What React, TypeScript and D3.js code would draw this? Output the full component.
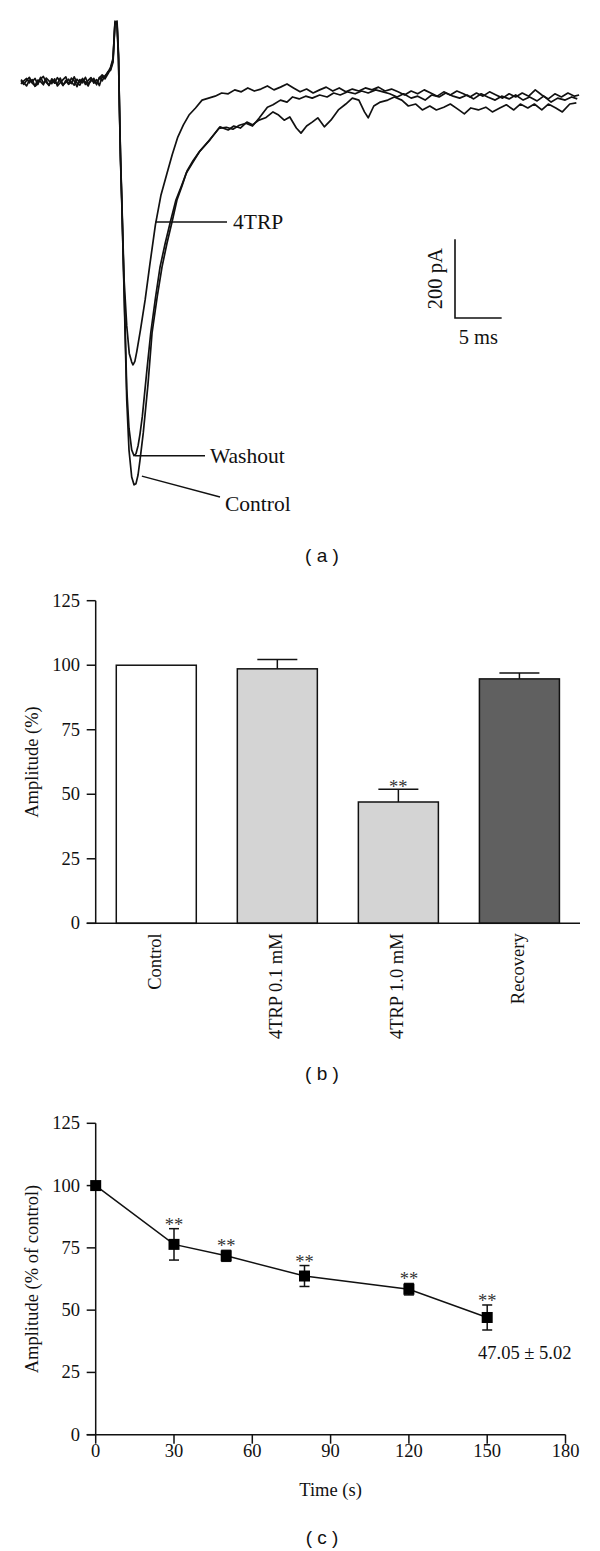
import React from "react";
import * as d3 from "d3";

// ---------- Panel (a): current traces (time in ms, current in pA) ----------
const baselineTimes = [0, 0.3, 0.6, 0.9, 1.2, 1.5, 1.8, 2.1, 2.4, 2.7, 3.0, 3.3, 3.6, 3.9, 4.2, 4.5, 4.8, 5.1, 5.4, 5.7, 6.0, 6.3, 6.6, 6.9, 7.2, 7.5, 7.8, 8.1, 8.4, 8.7, 9.0, 9.3, 9.6];
const controlBaseline = [2, -6, 4, 12, -3, -9, 5, 1, -7, 10, 3, -4, 8, -10, -2, 6, 13, -5, 0, -8, 7, -1, 9, -6, 4, 11, -3, 6, -9, 14, 8, 20, 33];
const washoutBaseline = [-5, 3, 9, -2, 6, -11, -4, 8, 14, -1, -8, 5, -3, 11, 2, -9, 4, -6, 10, 3, -12, 6, -2, 12, -5, 2, 9, -7, 12, 3, 16, 24, 38];
const trpBaseline = [6, -2, -10, 5, 1, 9, -6, 12, -3, 4, -9, 8, 0, -5, 10, -7, -1, 7, -4, 13, -2, -8, 5, 0, -10, 7, 2, -4, 10, 18, 12, 26, 30];

const controlTrace: [number, number][] = [
  [9.86, 56], [10.07, 155], [10.29, 145], [10.45, 56], [10.55, -71], [10.66, -198], [10.79, -300],
  [11.04, -529], [11.33, -808], [11.57, -935], [11.86, -1004], [12.11, -1024], [12.32, -1021],
  [12.54, -999], [12.75, -961], [13.1, -892], [13.6, -770], [14.04, -638], [14.6, -545], [15.11, -470],
  [15.64, -410], [16.18, -356], [16.71, -300], [17.25, -264], [17.79, -226], [18.43, -200], [19.18, -175],
  [20.25, -147], [21.32, -114], [22.2, -122], [22.8, -112], [23.5, -117], [24.2, -102], [24.8, -109],
  [25.5, -97], [26.2, -91], [27, -76], [27.6, -84], [28.2, -97], [28.8, -89], [29.5, -117], [30, -130],
  [30.6, -112], [31.2, -102], [31.8, -91], [32.5, -114], [33.2, -97], [34, -71], [34.8, -56], [35.5, -41],
  [36.2, -46], [36.8, -76], [37.2, -91], [37.8, -61], [38.5, -51], [39.3, -46], [40, -38], [40.8, -46],
  [41.5, -61], [42.3, -56], [43, -71], [43.8, -61], [44.5, -71], [45.3, -64], [46, -56], [46.8, -69],
  [47.5, -81], [48.2, -66], [49, -71], [49.8, -64], [50.5, -76], [51.3, -66], [52, -58], [52.8, -71],
  [53.5, -56], [54.3, -66], [55, -56], [55.8, -71], [56.5, -56], [57.3, -66], [58, -76], [58.8, -56], [59.5, -53],
];

const washoutTrace: [number, number][] = [
  [9.86, 60], [10.07, 150], [10.29, 150], [10.45, 60], [10.55, -65], [10.66, -190], [10.79, -295],
  [11.04, -520], [11.33, -780], [11.57, -880], [11.86, -935], [12.11, -950], [12.32, -945], [12.54, -925],
  [12.75, -895], [13.0, -850], [13.5, -730], [13.9, -638], [14.4, -550], [14.9, -470], [15.45, -410],
  [16.0, -356], [16.6, -300], [17.2, -264], [17.7, -232], [18.4, -205], [19.1, -178], [20.1, -150],
  [21.2, -118], [22.0, -115], [22.7, -120], [23.4, -110], [24.1, -105], [24.8, -112], [25.5, -92],
  [26.4, -64], [27, -58], [27.8, -46], [28.5, -51], [29.1, -38], [29.8, -43], [30.5, -36], [31.2, -41],
  [32, -33], [32.8, -38], [33.5, -28], [34.2, -33], [35, -25], [35.8, -30], [36.5, -23], [37.2, -28],
  [38, -20], [38.8, -25], [39.5, -30], [40.3, -38], [41, -30], [41.8, -41], [42.5, -36], [43.3, -46],
  [44, -33], [44.8, -38], [45.5, -28], [46.3, -36], [47, -41], [47.8, -33], [48.5, -43], [49.3, -30],
  [50, -38], [50.8, -46], [51.5, -36], [52.3, -43], [53, -33], [53.8, -46], [54.5, -38], [55.3, -48],
  [56, -36], [56.8, -51], [57.5, -41], [58.3, -46], [59, -38], [59.6, -43],
];

const trpTrace: [number, number][] = [
  [9.86, 50], [10.07, 150], [10.29, 155], [10.45, 70], [10.55, -60], [10.66, -185], [10.79, -290],
  [11.04, -500], [11.33, -620], [11.6, -690], [11.86, -712], [12.0, -719], [12.2, -710], [12.4, -686],
  [12.8, -630], [13.3, -554], [13.8, -465], [14.4, -363], [15.0, -287], [15.6, -236], [16.2, -185],
  [16.8, -140], [17.4, -109], [18.0, -84], [18.7, -66], [19.4, -46], [20.1, -41], [20.8, -36], [21.5, -28],
  [22.2, -30], [22.9, -20], [23.6, -25], [24.3, -15], [25, -23], [25.7, -18], [26.4, -10], [27.1, -20],
  [27.8, -13], [28.5, -5], [29.2, -15], [29.9, -25], [30.6, -18], [31.3, -28], [32, -20], [32.7, -13],
  [33.4, -23], [34.1, -15], [34.8, -25], [35.5, -18], [36.2, -23], [36.9, -15], [37.6, -20], [38.3, -13],
  [39, -23], [39.7, -18], [40.4, -25], [41.1, -33], [41.8, -23], [42.5, -30], [43.2, -20], [43.9, -28],
  [44.6, -36], [45.3, -25], [46, -33], [46.7, -23], [47.4, -30], [48.1, -38], [48.8, -28], [49.5, -36],
  [50.2, -25], [50.9, -33], [51.6, -41], [52.3, -30], [53, -38], [53.7, -28], [54.4, -36], [55.1, -20],
  [55.8, -33], [56.5, -43], [57.2, -30], [57.9, -38], [58.6, -28], [59.3, -36], [59.8, -33],
];

// scale bar
const scaleBarTime = 5; // ms
const scaleBarCurrent = 200; // pA

// ---------- Panel (b): bar chart ----------
const barCategories = ["Control", "4TRP 0.1 mM", "4TRP 1.0 mM", "Recovery"];
const barValues = [100, 98.6, 47.0, 94.7];
const barErrors = [0, 3.6, 4.9, 2.3];
const barSig = ["", "", "**", ""];
const barFills = ["#ffffff", "#d4d4d4", "#d4d4d4", "#606060"];
const yTicksPct = [0, 25, 50, 75, 100, 125];

// ---------- Panel (c): time course ----------
const timePoints = [0, 30, 50, 80, 120, 150];
const timeMeans = [100, 76.4, 71.8, 63.7, 58.4, 47.05];
const timeErrors = [0, 6.3, 2.2, 4.2, 2.3, 5.02];
const timeSig = ["", "**", "**", "**", "**", "**"];
const timeTicks = [0, 30, 60, 90, 120, 150, 180];

const SERIF = "'Liberation Serif', 'Times New Roman', serif";
const SANS = "'Liberation Sans', Arial, sans-serif";

export default function App() {
  // Panel a scales
  const xA = d3.scaleLinear().domain([0, 60]).range([21, 581]);
  const yA = d3.scaleLinear().domain([0, -1000]).range([82, 475.4]);
  const lineA = d3
    .line<[number, number]>()
    .x((d) => xA(d[0]))
    .y((d) => yA(d[1]));
  const mk = (base: number[], rest: [number, number][]) =>
    [...baselineTimes.map((t, i) => [t, base[i]] as [number, number]), ...rest];
  const traces = [
    mk(controlBaseline, controlTrace),
    mk(washoutBaseline, washoutTrace),
    mk(trpBaseline, trpTrace),
  ];

  const sbT = 46.5;
  const sbI = -400;

  // Panel b scales
  const xB = d3.scaleBand<string>().domain(barCategories).range([95.7, 580]).paddingInner(0.339).paddingOuter(0.17);
  const yB = d3.scaleLinear().domain([0, 125]).range([923.3, 600.7]);

  // Panel c scales
  const xC = d3.scaleLinear().domain([0, 180]).range([95.7, 565.5]);
  const yC = d3.scaleLinear().domain([0, 125]).range([1434.7, 1123.3]);
  const lineC = d3
    .line<number>()
    .x((_, i) => xC(timePoints[i]))
    .y((d) => yC(d));

  const fs = 18.5;
  const axisColor = "#111";

  return (
    <svg
      width={600}
      height={1551}
      style={{ position: "absolute", left: 0, top: 0, background: "#fff" }}
      fontFamily={SERIF}
    >
      <rect x={0} y={0} width={600} height={1551} fill="#fff" />
      {/* ---------------- Panel (a) ---------------- */}
      <g fill="none" stroke="#111" strokeWidth={1.7} strokeLinejoin="round">
        {traces.map((tr, i) => (
          <path key={i} d={lineA(tr) || ""} />
        ))}
      </g>
      {/* leaders */}
      <g stroke="#111" strokeWidth={1.4}>
        <line x1={xA(14.4)} y1={yA(-356)} x2={227} y2={yA(-356)} />
        <line x1={xA(12.2)} y1={yA(-950)} x2={205} y2={yA(-950)} />
        <line x1={xA(12.95)} y1={yA(-1002)} x2={220} y2={497} />
      </g>
      <g fontSize={21.5} fill="#111">
        <text x={233} y={yA(-356) + 7}>4TRP</text>
        <text x={210} y={yA(-950) + 7}>Washout</text>
        <text x={225} y={511}>Control</text>
      </g>
      {/* scale bar */}
      <g stroke="#111" strokeWidth={1.6} fill="none">
        <path
          d={`M${xA(sbT)},${yA(sbI)} L${xA(sbT)},${yA(sbI - scaleBarCurrent)} L${xA(sbT + scaleBarTime)},${yA(sbI - scaleBarCurrent)}`}
        />
      </g>
      <text
        fontSize={20.5}
        fill="#111"
        textAnchor="middle"
        transform={`translate(${xA(sbT) - 13},${(yA(sbI) + yA(sbI - scaleBarCurrent)) / 2}) rotate(-90)`}
      >
        {scaleBarCurrent} pA
      </text>
      <text
        fontSize={20.5}
        fill="#111"
        textAnchor="middle"
        x={(xA(sbT) + xA(sbT + scaleBarTime)) / 2}
        y={yA(sbI - scaleBarCurrent) + 26}
      >
        {scaleBarTime} ms
      </text>
      <text x={322} y={562} fontFamily={SANS} fontSize={19} textAnchor="middle" fill="#111">
        ( a )
      </text>

      {/* ---------------- Panel (b) ---------------- */}
      {barCategories.map((c, i) => {
        const x0 = xB(c) as number;
        const w = xB.bandwidth();
        const cx = x0 + w / 2;
        return (
          <g key={c}>
            {barErrors[i] > 0 && (
              <g stroke="#111" strokeWidth={1.5}>
                <line x1={cx} x2={cx} y1={yB(barValues[i])} y2={yB(barValues[i] + barErrors[i])} />
                <line x1={cx - w / 4} x2={cx + w / 4} y1={yB(barValues[i] + barErrors[i])} y2={yB(barValues[i] + barErrors[i])} />
              </g>
            )}
            <rect
              x={x0}
              y={yB(barValues[i])}
              width={w}
              height={yB(0) - yB(barValues[i])}
              fill={barFills[i]}
              stroke="#111"
              strokeWidth={1.5}
            />
            {barSig[i] && (
              <text x={cx} y={yB(barValues[i] + barErrors[i]) + 4} fontSize={fs} textAnchor="middle" fill="#333">
                {barSig[i]}
              </text>
            )}
            <text
              fontSize={fs}
              fill="#111"
              textAnchor="end"
              transform={`translate(${cx + 5},${yB(0) + 10}) rotate(-90)`}
            >
              {c}
            </text>
          </g>
        );
      })}
      <g stroke={axisColor} strokeWidth={1.5}>
        <line x1={95.7} x2={95.7} y1={yB(125)} y2={yB(0)} />
        <line x1={86.7} x2={580} y1={yB(0)} y2={yB(0)} />
        {yTicksPct.map((t) => (
          <line key={t} x1={86.7} x2={95.7} y1={yB(t)} y2={yB(t)} />
        ))}
      </g>
      <g fontSize={fs} fill="#111" textAnchor="end">
        {yTicksPct.map((t) => (
          <text key={t} x={80} y={yB(t) + 6}>
            {t}
          </text>
        ))}
      </g>
      <text
        fontSize={fs}
        fill="#111"
        textAnchor="middle"
        transform={`translate(38,${(yB(0) + yB(125)) / 2}) rotate(-90)`}
      >
        Amplitude (%)
      </text>
      <text x={322} y={1080} fontFamily={SANS} fontSize={19} textAnchor="middle" fill="#111">
        ( b )
      </text>

      {/* ---------------- Panel (c) ---------------- */}
      <g stroke={axisColor} strokeWidth={1.5}>
        <line x1={95.7} x2={95.7} y1={yC(125)} y2={yC(0)} />
        <line x1={86.7} x2={xC(180)} y1={yC(0)} y2={yC(0)} />
        {yTicksPct.map((t) => (
          <line key={t} x1={86.7} x2={95.7} y1={yC(t)} y2={yC(t)} />
        ))}
        {timeTicks.map((t) => (
          <line key={t} x1={xC(t)} x2={xC(t)} y1={yC(0)} y2={yC(0) + 9} />
        ))}
      </g>
      <g fontSize={fs} fill="#111" textAnchor="end">
        {yTicksPct.map((t) => (
          <text key={t} x={80} y={yC(t) + 6}>
            {t}
          </text>
        ))}
      </g>
      <g fontSize={fs} fill="#111" textAnchor="middle">
        {timeTicks.map((t) => (
          <text key={t} x={xC(t)} y={yC(0) + 22}>
            {t}
          </text>
        ))}
      </g>
      <text x={(xC(0) + xC(180)) / 2} y={1496} fontSize={fs} textAnchor="middle" fill="#111">
        Time (s)
      </text>
      <text
        fontSize={fs}
        fill="#111"
        textAnchor="middle"
        transform={`translate(38,${(yC(0) + yC(125)) / 2}) rotate(-90)`}
      >
        Amplitude (% of control)
      </text>
      <path d={lineC(timeMeans) || ""} fill="none" stroke="#111" strokeWidth={1.5} />
      {timePoints.map((t, i) => {
        const cx = xC(t);
        const m = timeMeans[i];
        const e = timeErrors[i];
        return (
          <g key={t}>
            {e > 0 && (
              <g stroke="#111" strokeWidth={1.5}>
                <line x1={cx} x2={cx} y1={yC(m - e)} y2={yC(m + e)} />
                <line x1={cx - 5} x2={cx + 5} y1={yC(m + e)} y2={yC(m + e)} />
                <line x1={cx - 5} x2={cx + 5} y1={yC(m - e)} y2={yC(m - e)} />
              </g>
            )}
            <rect x={cx - 5.5} y={yC(m) - 5.5} width={11} height={11} fill="#000" />
            {timeSig[i] && (
              <text x={cx} y={yC(m + e) + 2} fontSize={fs} textAnchor="middle" fill="#333">
                {timeSig[i]}
              </text>
            )}
          </g>
        );
      })}
      <text x={478} y={1359} fontSize={fs} fill="#111">
        {timeMeans[5].toFixed(2)} ± {timeErrors[5].toFixed(2)}
      </text>
      <text x={322} y={1544} fontFamily={SANS} fontSize={19} textAnchor="middle" fill="#111">
        ( c )
      </text>
    </svg>
  );
}
